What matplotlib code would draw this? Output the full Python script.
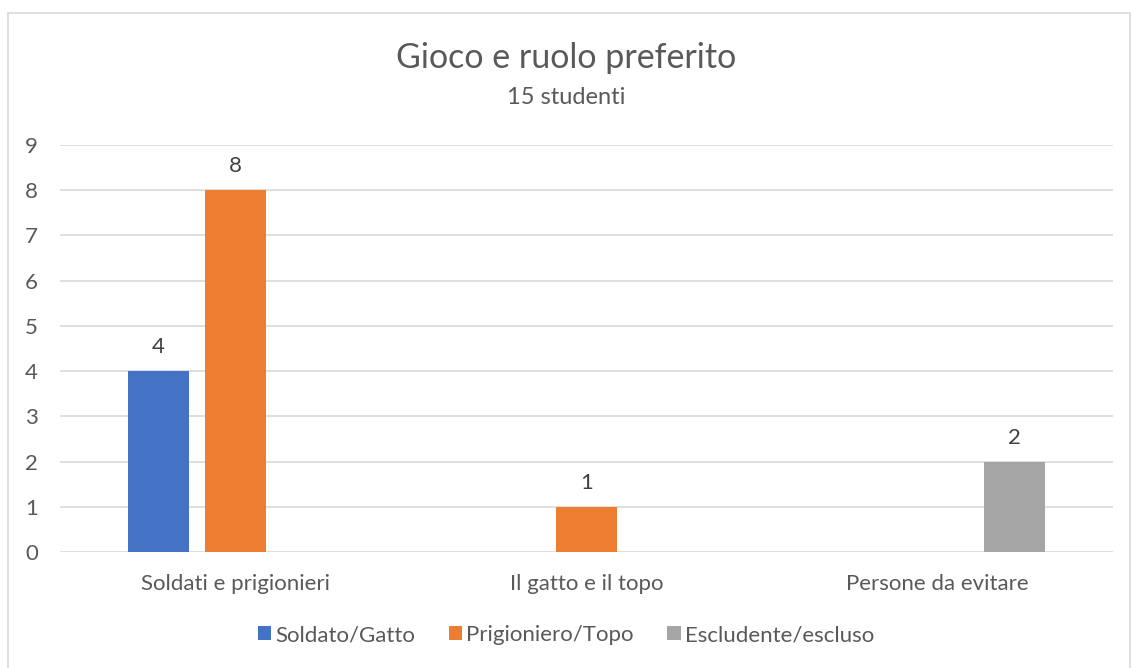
import matplotlib
matplotlib.use("Agg")
import matplotlib.pyplot as plt
import numpy as np
from matplotlib.patches import Rectangle

categories = ["Soldati e prigionieri", "Il gatto e il topo", "Persone da evitare"]
series_names = ["Soldato/Gatto", "Prigioniero/Topo", "Escludente/escluso"]
soldato_gatto = [4, 0, 0]
prigioniero_topo = [8, 1, 0]
escludente_escluso = [0, 0, 2]
y_ticks = list(range(0, 10))

colors = ["#4472C4", "#ED7D31", "#A5A5A5"]
text_color = "#595959"
grid_color = "#D9D9D9"

plt.rcParams["font.family"] = ["Lato", "DejaVu Sans"]

fig = plt.figure(figsize=(11.32, 6.68), dpi=100)
# chart border (bottom edge runs off the image, as in the reference)
fig.patches.append(Rectangle((8 / 1132, -0.01), 1 - 10 / 1132, 1 - 13 / 668 + 0.01,
                             transform=fig.transFigure, fill=False,
                             edgecolor=grid_color, linewidth=1.2))
ax = fig.add_axes([60 / 1132, 1 - 552 / 668, (1113 - 60) / 1132, (552 - 145) / 668])

x = np.arange(len(categories))
width = 0.174
step = 0.219
all_series = [soldato_gatto, prigioniero_topo, escludente_escluso]
for i, (name, vals, col) in enumerate(zip(series_names, all_series, colors)):
    bars = ax.bar(x + (i - 1) * step, vals, width, color=col, label=name, zorder=3)
    ax.bar_label(bars, labels=[str(v) if v else "" for v in vals], padding=10,
                 fontsize=16, color="#404040")

ax.set_xlim(-0.5, 2.5)
ax.set_ylim(0, 9)
ax.set_yticks(y_ticks)
ax.set_xticks(x)
ax.set_xticklabels(categories)
ax.tick_params(axis="both", length=0, labelsize=16, colors=text_color)
ax.tick_params(axis="x", pad=16)
ax.tick_params(axis="y", pad=16)
ax.grid(axis="y", color=grid_color, linewidth=1.2, zorder=0)
for s in ax.spines.values():
    s.set_visible(False)

fig.text(0.5, 1 - 58 / 668, "Gioco e ruolo preferito", ha="center", va="center",
         fontsize=24.5, color=text_color)
fig.text(0.5, 1 - 98 / 668, "15 studenti", ha="center", va="center",
         fontsize=17, color=text_color)

fig.legend(loc="center", bbox_to_anchor=(0.5, 1 - 635 / 668), ncol=3, frameon=False,
           fontsize=16, handlelength=0.6, handleheight=0.6, handletextpad=0.2,
           columnspacing=1.5, labelcolor=text_color)

fig.savefig("out.png", dpi=100)
